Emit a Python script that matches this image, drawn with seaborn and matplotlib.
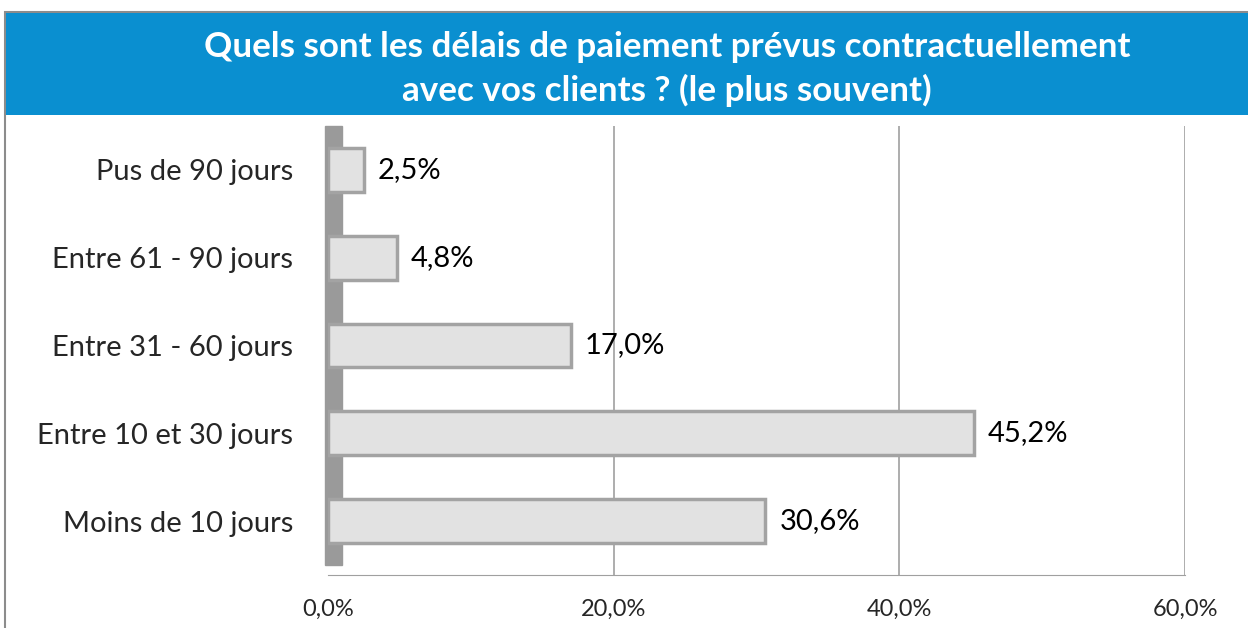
import matplotlib
matplotlib.use("Agg")
import matplotlib.pyplot as plt
import seaborn as sns
import pandas as pd
from matplotlib.patches import Rectangle

categories = ["Pus de 90 jours", "Entre 61 - 90 jours", "Entre 31 - 60 jours",
              "Entre 10 et 30 jours", "Moins de 10 jours"]
values = [2.5, 4.8, 17.0, 45.2, 30.6]
xticks = [0, 20, 40, 60]
xtick_labels = ["0,0%", "20,0%", "40,0%", "60,0%"]
title = "Quels sont les délais de paiement prévus contractuellement\navec vos clients ? (le plus souvent)"

sns.set_style("white")
plt.rcParams['font.family'] = ['Lato', 'DejaVu Sans']

W, H = 1248, 628
fig = plt.figure(figsize=(W / 100, H / 100), dpi=100)

# outer frame and title banner
fig.patches.append(Rectangle((5 / W, -0.1), 1.2, 1 - 12 / H + 0.1, transform=fig.transFigure,
                             facecolor="white", edgecolor="#8c8c8c", linewidth=1.5, zorder=0))
fig.patches.append(Rectangle((6 / W, 1 - 115 / H), 1.2, (115 - 13) / H, transform=fig.transFigure,
                             facecolor="#0a8fd0", edgecolor="none", zorder=1))
fig.text(667 / W, 1 - 69 / H, title, color="white", fontsize=25.2, fontweight="bold",
         ha="center", va="center", linespacing=1.42, zorder=2)

ax = fig.add_axes([328 / W, 1 - 575 / H, (1185 - 328) / W, (575 - 126) / H])
ax.set_zorder(5)
ax.patch.set_alpha(0)
df = pd.DataFrame({"cat": categories, "val": values})
sns.barplot(data=df, y="cat", x="val", orient="h", ax=ax, color="#e2e2e2",
            edgecolor="#a3a3a3", linewidth=2.5, width=0.5, saturation=1, zorder=3)

ax.set_xlim(0, 60)
ax.set_ylim(4.5 + 10 / 88, -0.5)
ax.set_xticks(xticks)
ax.set_xticklabels(xtick_labels, fontsize=17)
ax.set_xlabel("")
ax.set_ylabel("")
ax.tick_params(axis="y", labelsize=21, pad=25, length=0)
ax.tick_params(axis="x", pad=17, length=0)
for s in ax.spines.values():
    s.set_visible(False)
ax.spines["bottom"].set_visible(True)
ax.spines["bottom"].set_color("#a0a0a0")

for x in xticks[1:]:
    ax.axvline(x, color="#a0a0a0", linewidth=1.2, zorder=1)
# left wall
ax.axvspan(-0.2, 1.0, ymin=10 / 449, ymax=1.0, color="#9a9a9a", zorder=2, clip_on=False)

for i, v in enumerate(values):
    ax.text(v + 1.0, i, f"{v:.1f}%".replace(".", ","), va="center", ha="left",
            fontsize=21, color="black", zorder=4)

fig.savefig("out.png", dpi=100)
